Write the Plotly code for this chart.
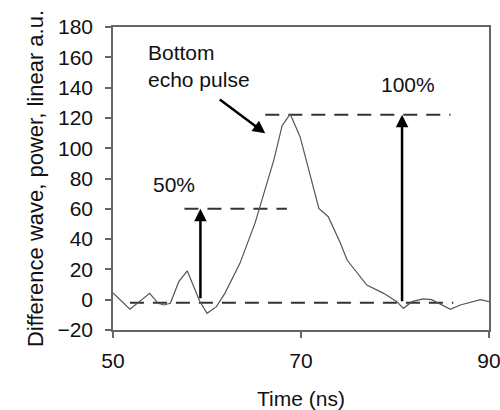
import plotly.graph_objects as go

# Curve data (Time ns, power a.u.)
time_ns = [50.0, 51.8, 53.9, 54.8, 55.4, 56.1, 57.0, 57.9, 59.2, 60.0, 61.0, 61.9,
           63.5, 65.1, 67.1, 68.0, 68.85, 69.9, 71.9, 72.9, 74.2, 74.9, 77.0, 78.8,
           80.2, 80.9, 81.8, 83.0, 83.9, 85.9, 86.95, 89.1, 90.0]
power = [4.4, -6.3, 4.2, -2.4, -3.5, -2.4, 11.9, 19.1, -0.7, -9.0, -4.6, 4.2,
         24.0, 50.4, 92.0, 115.0, 122.5, 107.6, 60.3, 54.8, 37.2, 26.2, 9.7, 4.2,
         -1.3, -5.7, -1.3, 0.5, 0.0, -6.3, -3.5, 0.0, -1.3]

# Reference levels
baseline_level = -2
half_level = 60
peak_level = 122
baseline_x = [51.8, 86.2]
half_x = [57.6, 68.5]
peak_x = [66.2, 85.9]
half_arrow_x = 59.3
peak_arrow_x = 80.75

x_ticks = [50, 70, 90]
y_ticks = list(range(-20, 181, 20))

FONT = "Arial, Liberation Sans, sans-serif"
DASH = "14px,9px"
dash_color = "#333333"

fig = go.Figure()
fig.add_trace(go.Scatter(x=baseline_x, y=[baseline_level] * 2, mode="lines",
                         line=dict(color=dash_color, width=2, dash=DASH), hoverinfo="skip"))
fig.add_trace(go.Scatter(x=half_x, y=[half_level] * 2, mode="lines",
                         line=dict(color=dash_color, width=2, dash=DASH), hoverinfo="skip"))
fig.add_trace(go.Scatter(x=peak_x, y=[peak_level] * 2, mode="lines",
                         line=dict(color=dash_color, width=2, dash=DASH), hoverinfo="skip"))
fig.add_trace(go.Scatter(x=time_ns, y=power, mode="lines",
                         line=dict(color="#555555", width=1.2)))

# Arrows
fig.add_annotation(x=half_arrow_x, y=half_level, ax=half_arrow_x, ay=baseline_level + 2,
                   xref="x", yref="y", axref="x", ayref="y", text="", showarrow=True,
                   arrowhead=2, arrowsize=1, arrowwidth=2.5, arrowcolor="black")
fig.add_annotation(x=peak_arrow_x, y=peak_level, ax=peak_arrow_x, ay=baseline_level,
                   xref="x", yref="y", axref="x", ayref="y", text="", showarrow=True,
                   arrowhead=2, arrowsize=1, arrowwidth=2.5, arrowcolor="black")
fig.add_annotation(x=66.2, y=109.8, ax=61.2, ay=132.9,
                   xref="x", yref="y", axref="x", ayref="y", text="", showarrow=True,
                   arrowhead=2, arrowsize=1, arrowwidth=2.5, arrowcolor="black")

# Labels
fig.add_annotation(x=53.5, y=154, xref="x", yref="y", text="Bottom<br>echo pulse",
                   showarrow=False, xanchor="left", yanchor="middle", align="left",
                   font=dict(family=FONT, size=21, color="#111"))
fig.add_annotation(x=56.5, y=76, xref="x", yref="y", text="50%", showarrow=False,
                   font=dict(family=FONT, size=21, color="#111"))
fig.add_annotation(x=81.4, y=142, xref="x", yref="y", text="100%", showarrow=False,
                   font=dict(family=FONT, size=21, color="#111"))

axis_common = dict(showgrid=False, zeroline=False, showline=True, linecolor="#666666",
                   linewidth=1.5, mirror=True, ticks="outside", ticklen=6,
                   tickcolor="#666666", tickwidth=1.5, ticklabeloverflow="allow",
                   tickfont=dict(family=FONT, size=21, color="#111"))

fig.update_xaxes(range=[50, 90], tickvals=x_ticks, ticklabelstandoff=5,
                 title=dict(text="Time (ns)", font=dict(family=FONT, size=21, color="#111"),
                            standoff=22),
                 **axis_common)
fig.update_yaxes(range=[-20, 180], tickvals=y_ticks, ticklabelstandoff=8,
                 title=dict(text="Difference wave, power, linear a.u.",
                            font=dict(family=FONT, size=22, color="#111"), standoff=8),
                 **axis_common)

fig.update_layout(width=500, height=410, showlegend=False,
                  margin=dict(l=113, r=11, t=27, b=80, autoexpand=False),
                  plot_bgcolor="white", paper_bgcolor="white")

# Remove the page's default body margin so the 500x410 figure fills the window exactly
fig.write_html("out.html", config={"displayModeBar": False},
               post_script="document.body.style.margin='0';document.body.style.overflow='hidden';")
